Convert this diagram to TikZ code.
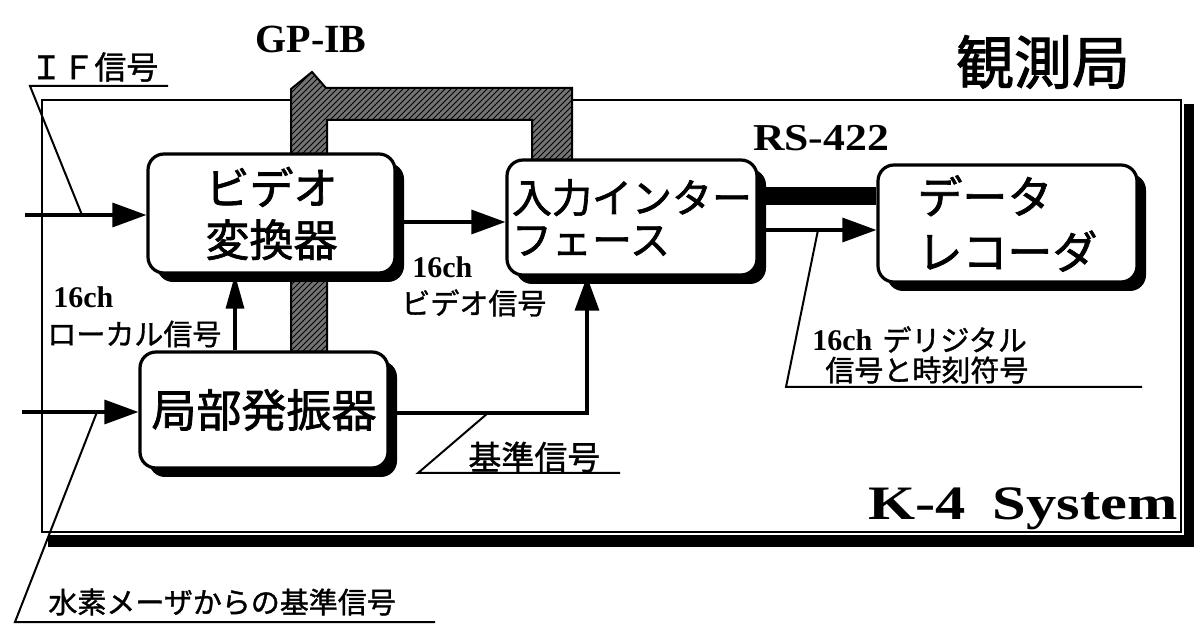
\documentclass[tikz,border=0pt]{standalone}
\usepackage{fontspec}
\setmainfont{Liberation Serif}
\newfontfamily\jp{Noto Sans CJK JP}[FakeBold=1.6]
\newfontfamily\jps{Noto Sans CJK JP}[FakeBold=1.2]
\usetikzlibrary{arrows.meta,shadows,patterns}
\tikzset{
  box/.style={draw, line width=1.6pt, fill=white, rounded corners=8pt, inner sep=0pt,
    drop shadow={shadow xshift=4.5pt, shadow yshift=-4.5pt, opacity=1, fill=black}},
  arr/.style={line width=1.6pt, -{Triangle[length=17pt,width=12pt]}},
  lead/.style={line width=1pt},
  jl/.style={font=\jps\fontsize{14.5}{17}\selectfont, inner sep=0pt},
  ser/.style={font=\bfseries\fontsize{15}{17}\selectfont, inner sep=0pt},
}
\begin{document}
\begin{tikzpicture}[x=0.5pt,y=-0.5pt]
\useasboundingbox (0,0) rectangle (1200,630);
\fill[white] (0,0) rectangle (1200,630);
% outer frame with shadow
\fill[black] (48,104) rectangle (1194,547);
\fill[white] (38,96) rectangle (1184,535);
\draw[line width=1.2pt] (42,100) rectangle (1181,532);
% GP-IB bus
\path[fill=black!55, postaction={pattern=north east lines, pattern color=black}, draw, line width=1pt]
  (291,352) -- (291,89) -- (312,72) -- (326,88) -- (572,88) -- (572,165) -- (532,165)
  -- (532,120) -- (327,120) -- (327,352) -- cycle;
% boxes
\node[box, minimum width=123.5pt, minimum height=59.5pt, align=center,
  font=\jp\fontsize{22}{26}\selectfont] (vc) at (271.5,213.5) {ビデオ\\変換器};
\node[box, minimum width=125pt, minimum height=57.5pt, align=left,
  font=\jp\fontsize{20}{21}\selectfont] (ii) at (632,217.5) {入力インター\\フェース};
\node[box, minimum width=129.5pt, minimum height=58.5pt, align=left,
  font=\jp\fontsize{22.5}{27.5}\selectfont] (dr) at (1007.5,223.5) {データ\\レコーダ};
\node[box, minimum width=124pt, minimum height=58pt,
  font=\jp\fontsize{22.5}{26}\selectfont] (lo) at (264,410) {局部発振器};
% coordinates
\coordinate (ifin) at (25,215);
\coordinate (h2in) at (22,412);
\coordinate (ifa) at (168,86);
\coordinate (ifb) at (30,86);
\coordinate (ifc) at (82,215);
\coordinate (h2a) at (97,412);
\coordinate (h2b) at (15,622);
\coordinate (h2c) at (435,622);
\coordinate (kja) at (488,413);
\coordinate (kjb) at (418,473);
\coordinate (kjc) at (620,473);
\coordinate (dga) at (818,230);
\coordinate (dgb) at (786,387);
\coordinate (dgc) at (1142,387);
% connectors
\draw[line width=9pt] (ii.east |- 0,196) -- (dr.west |- 0,196);
\draw[arr] (ifin) -- (ifin -| vc.west);
\draw[arr] (h2in) -- (h2in -| lo.west);
\draw[arr] (vc.east |- 0,222) -- (ii.west |- 0,222);
\draw[line width=1.6pt, -{Triangle[length=17pt,width=9pt]}] (lo.north -| 235,0) -- (vc.south -| 235,0);
\draw[arr] (lo.east |- 0,413) -| (ii.south -| 587,0);
\draw[arr] (ii.east |- 0,230) -- (dr.west |- 0,230);
% leaders
\draw[lead] (ifa) -- (ifb) -- (ifc);
\draw[lead] (h2a) -- (h2b) -- (h2c);
\draw[lead] (kja) -- (kjb) -- (kjc);
\draw[lead] (dga) -- (dgb) -- (dgc);
% labels
\node[font=\bfseries\fontsize{20}{24}\selectfont, inner sep=0pt] (gpib) at (311,39) {GP-IB};
\node[font=\bfseries\fontsize{19}{22}\selectfont, inner sep=0pt] (rs) at (821,138) {\scalebox{1.15}[1]{RS-422}};
\node[font=\jp\fontsize{29}{32}\selectfont, inner sep=0pt] (kan) at (1043,62) {観測局};
\node[anchor=base west, inner sep=0pt, font=\bfseries\fontsize{24}{28}\selectfont] (k4) at (868,520) {\scalebox{1.26}[1]{K-4\hspace{0.45em}System}};
\node[jl, anchor=west, font=\jps\fontsize{16}{18}\selectfont] (iflbl) at (30,67) {ＩＦ信号};
\node[ser, anchor=base west] (ch1) at (53,308) {16ch};
\node[jl, anchor=west] (loclbl) at (47,334) {ローカル信号};
\node[ser, anchor=base west] (ch2) at (412,278) {16ch};
\node[jl, anchor=west] (vidlbl) at (401,303) {ビデオ信号};
\node[jl, anchor=west, font=\jps\fontsize{16.5}{18}\selectfont] (kjlbl) at (468,457) {基準信号};
\node[jl, anchor=west] (h2lbl) at (48,602) {水素メーザからの基準信号};
\node[inner sep=0pt, anchor=base west] (dglbl) at (812,351) {{\bfseries\fontsize{15}{17}\selectfont 16ch}\hspace{5pt}{\jps\fontsize{14.5}{17}\selectfont デリジタル}};
\node[jl, anchor=west] (dglbl2) at (825,370) {信号と時刻符号};
\end{tikzpicture}
\end{document}
